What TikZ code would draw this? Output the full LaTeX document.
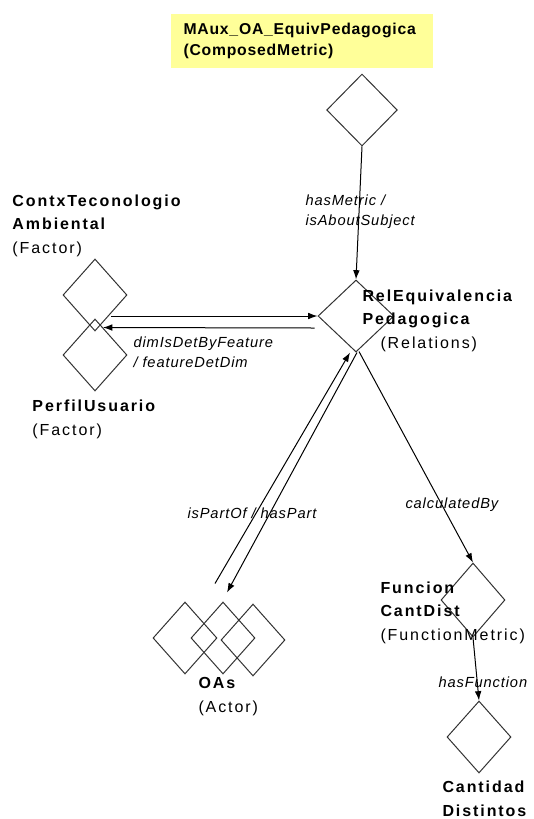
\documentclass[tikz,border=0pt]{standalone}
\usepackage{fontspec}
\setmainfont{Liberation Sans}[LetterSpace=12]
\newfontfamily\rolfont{Liberation Sans}[LetterSpace=6]
\newfontfamily\titulofont{Liberation Sans}[LetterSpace=5]
\usetikzlibrary{arrows.meta,calc,positioning,shapes.geometric}
\definecolor{notayellow}{RGB}{255,255,153}

\begin{document}
\begin{tikzpicture}[x=0.75pt,y=-0.75pt,>={Latex[length=7pt,width=5pt]},line width=0.75pt,
 concepto/.style={draw=black!80,diamond,inner sep=0pt,minimum width=48pt,minimum height=54pt},
 nombre/.style={anchor=base west,align=left,inner sep=0pt,font=\fontsize{12}{17.5}\selectfont},
 rol/.style={anchor=base west,align=left,inner sep=0pt,font=\rolfont\itshape\fontsize{11}{15}\selectfont}]
\path[use as bounding box] (0,0) rectangle (534,819);
\node[fill=notayellow,anchor=north west,text width=177pt,inner xsep=9.75pt,minimum height=40.5pt,align=left,
 font=\titulofont\bfseries\fontsize{11.8}{15.75}\selectfont] (titulo) at (170,13) {MAux\_OA\_EquivPedagogica\\(ComposedMetric)};
% diamantes
\node[concepto,minimum width=53pt] (metrica) at (362,110) {};
\node[concepto,minimum width=57pt] (rel) at (356,316) {};
\node[concepto] (ctx) at (95,295) {};
\node[concepto] (perfil) at (95,355) {};
\node[concepto] (oa1) at (185,638) {};
\node[concepto] (oa2) at (223,638) {};
\node[concepto] (oa3) at (253,640) {};
\node[concepto,minimum height=55.5pt] (funcion) at (473,600) {};
\node[concepto] (cantidad) at (479,737) {};
% nombres (base = ultima linea)
\node[nombre] (ctxnom) at (12,253) {\textbf{ContxTeconologio}\\\textbf{Ambiental}\\(Factor)};
\node[nombre] (perfilnom) at (32,435) {\textbf{PerfilUsuario}\\(Factor)};
\node[nombre] (relnom) at (362,348) {\textbf{RelEquivalencia}\\\textbf{Pedagogica}\\\hspace{13.5pt}(Relations)};
\node[nombre] (oasnom) at (198,712) {\textbf{OAs}\\(Actor)};
\node[nombre] (funcnom) at (380,640) {\textbf{Funcion}\\\textbf{CantDist}\\(FunctionMetric)};
\node[nombre] (cantnom) at (442,816) {\textbf{Cantidad}\\\textbf{Distintos}};
% relaciones
\draw[->] (metrica.south) -- (rel.north);
\draw[->] (ctx.south east |- rel.west) -- (rel.west);
\draw[->] ($(rel.west)+(-3,12)$) -- ($(perfil.north)+(8,9)$);
\draw[->] ($(oa2.north)+(-8,-18)$) -- ($(rel.south)+(-6,0)$);
\draw[->] ($(rel.south)+(1,0)$) -- ($(oa2.north)+(4,-9)$);
\draw[->] ($(rel.south)+(3,-1)$) -- (funcion.north);
\draw[->] (funcion.south) -- (cantidad.north);
\node[rol] (metricarol) at (305,225) {hasMetric /\\isAboutSubject};
\node[rol] (dimrol) at (133,367) {dimIsDetByFeature\\/ featureDetDim};
\node[rol] (partrol) at (187,518) {isPartOf / hasPart};
\node[rol] (calcrol) at (405,508) {calculatedBy};
\node[rol] (funcrol) at (438,687) {hasFunction};
\end{tikzpicture}
\end{document}
